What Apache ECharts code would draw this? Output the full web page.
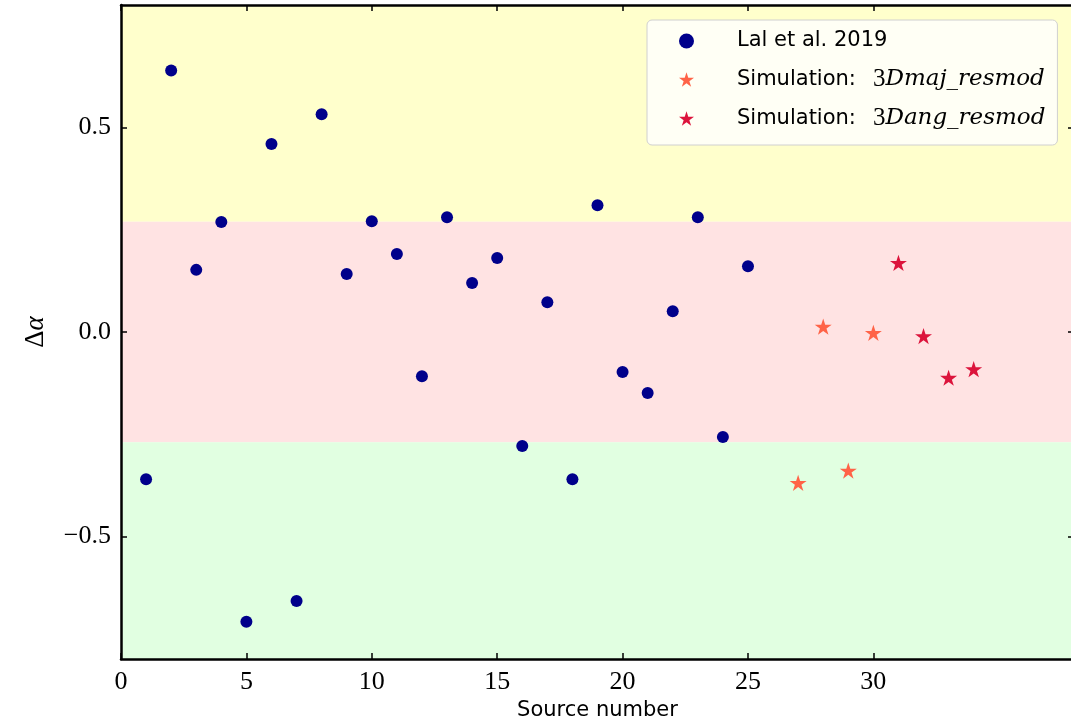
<!DOCTYPE html>
<html>
<head>
<meta charset="utf-8">
<script src="https://cdn.jsdelivr.net/npm/echarts@6/dist/echarts.min.js"></script>
<style>
  html, body { margin: 0; padding: 0; background: #ffffff; }
  #chart { width: 1071px; height: 721px; }
</style>
</head>
<body>
<div id="chart"></div>
<script>
// ---- data ----
const lalX = [1,2,3,4,5,6,7,8,9,10,11,12,13,14,15,16,17,18,19,20,21,22,23,24,25];
const lalY = [-0.36,0.64,0.152,0.269,-0.709,0.46,-0.658,0.533,0.142,0.271,0.191,-0.108,0.281,0.12,0.181,-0.279,0.073,-0.36,0.31,-0.098,-0.149,0.051,0.281,-0.257,0.161];
const majX = [27,28,29,30];
const majY = [-0.369,0.013,-0.339,-0.002];
const angX = [31,32,33,34];
const angY = [0.169,-0.01,-0.112,-0.091];
const xTicks = [0,5,10,15,20,25,30];
const yTicks = [-0.5,0.0,0.5];
const bandEdges = [-0.8,-0.27,0.27,0.8];
const seriesNames = ['Lal et al. 2019','Simulation: 3Dmaj_resmod','Simulation: 3Dang_resmod'];

const starPath = 'path://M100,0L122.45,69.1L195.11,69.1L136.33,111.8L158.78,180.9L100,138.2L41.22,180.9L63.67,111.8L4.89,69.1L77.55,69.1Z';

function pairs(xs, ys){ return xs.map((x,i)=>[x, ys[i]]); }

const chart = echarts.init(document.getElementById('chart'), null, {renderer:'canvas'});

const tickFont = {fontFamily:'Liberation Serif', fontSize:26, color:'#000'};
const spine = {show:true, onZero:false, lineStyle:{color:'#000', width:2.5}};
const tick = {show:true, inside:true, length:6, lineStyle:{color:'#000', width:1.5}};

const option = {
  animation:false,
  backgroundColor:'#ffffff',
  grid:{left:121, top:5, width:953, height:654, containLabel:false, outerBoundsMode:'none'},
  xAxis:[
    {type:'value', min:0, max:38, position:'bottom', z:10,
     axisLine:spine, splitLine:{show:false},
     axisTick:Object.assign({customValues:xTicks}, tick),
     axisLabel:Object.assign({customValues:xTicks, margin:10, formatter:v=>String(v)}, tickFont),
     name:'Source number', nameLocation:'middle', nameGap:32,
     nameTextStyle:{fontFamily:'DejaVu Sans', fontSize:21, color:'#000'}},
    {type:'value', min:0, max:38, position:'top', z:10,
     axisLine:spine, splitLine:{show:false},
     axisTick:Object.assign({customValues:xTicks}, tick),
     axisLabel:{show:false}}
  ],
  yAxis:[
    {type:'value', min:-0.8, max:0.8, position:'left', z:10,
     axisLine:spine, splitLine:{show:false},
     axisTick:Object.assign({customValues:yTicks}, tick),
     axisLabel:Object.assign({customValues:yTicks, margin:10, padding:[6,0,0,0],
       formatter:v=>{ const s=Number(v).toFixed(1); return s.replace('-','\u2212'); }}, tickFont),
     name:'{d|\u0394}{a|\u03b1}', nameLocation:'middle', nameRotate:90, nameGap:72,
     nameTextStyle:{rich:{d:{fontFamily:'Liberation Serif', fontSize:27, color:'#000'},
                          a:{fontFamily:'Liberation Serif', fontStyle:'italic', fontSize:27, color:'#000'}}}},
    {type:'value', min:-0.8, max:0.8, position:'right', z:10,
     axisLine:spine, splitLine:{show:false},
     axisTick:Object.assign({customValues:yTicks}, tick),
     axisLabel:{show:false}}
  ],
  legend:{
    orient:'vertical', left:647, top:20, z:20,
    data:[
      {name:seriesNames[0], icon:'circle'},
      {name:seriesNames[1], icon:starPath},
      {name:seriesNames[2], icon:starPath}
    ],
    itemWidth:15, itemHeight:15, itemGap:14, 
    padding:[9,12,14,32],
    backgroundColor:'rgba(255,255,255,0.8)',
    borderColor:'#d0d0d0', borderWidth:1, borderRadius:5,
    formatter:function(name){
      const p = name.split(': ');
      if(p.length===1) return '{g|}{s|'+name+'}';
      return '{g|}{s|'+p[0]+':}{sp|}{n|3}{i|'+p[1].slice(1)+'}';
    },
    textStyle:{lineHeight:24, rich:{
      g:{width:38, lineHeight:24},
      sp:{width:17, lineHeight:24},
      s:{fontFamily:'DejaVu Sans', fontSize:21, color:'#000', lineHeight:24},
      n:{fontFamily:'Liberation Serif', fontSize:25, color:'#000', lineHeight:24},
      i:{fontFamily:'DejaVu Serif', fontStyle:'italic', fontSize:23, color:'#000', lineHeight:24}
    }}
  },
  series:[
    {type:'scatter', name:'bands', data:[], z:0, silent:true,
     markArea:{silent:true, data:[
       [{yAxis:bandEdges[2], itemStyle:{color:'#FFFFCC'}},{yAxis:bandEdges[3]}],
       [{yAxis:bandEdges[1], itemStyle:{color:'#FFE3E3'}},{yAxis:bandEdges[2]}],
       [{yAxis:bandEdges[0], itemStyle:{color:'#E1FFE1'}},{yAxis:bandEdges[1]}]
     ]}},
    {type:'scatter', name:seriesNames[0], data:pairs(lalX,lalY), symbol:'circle', symbolSize:12,
     itemStyle:{color:'#00008B', opacity:1}, z:3},
    {type:'scatter', name:seriesNames[1], data:pairs(majX,majY), symbol:starPath, symbolSize:17, symbolKeepAspect:true,
     itemStyle:{color:'#FF6347', opacity:1}, z:3},
    {type:'scatter', name:seriesNames[2], data:pairs(angX,angY), symbol:starPath, symbolSize:17, symbolKeepAspect:true,
     itemStyle:{color:'#DC143C', opacity:1}, z:3}
  ]
};
chart.setOption(option);
</script>
</body>
</html>
